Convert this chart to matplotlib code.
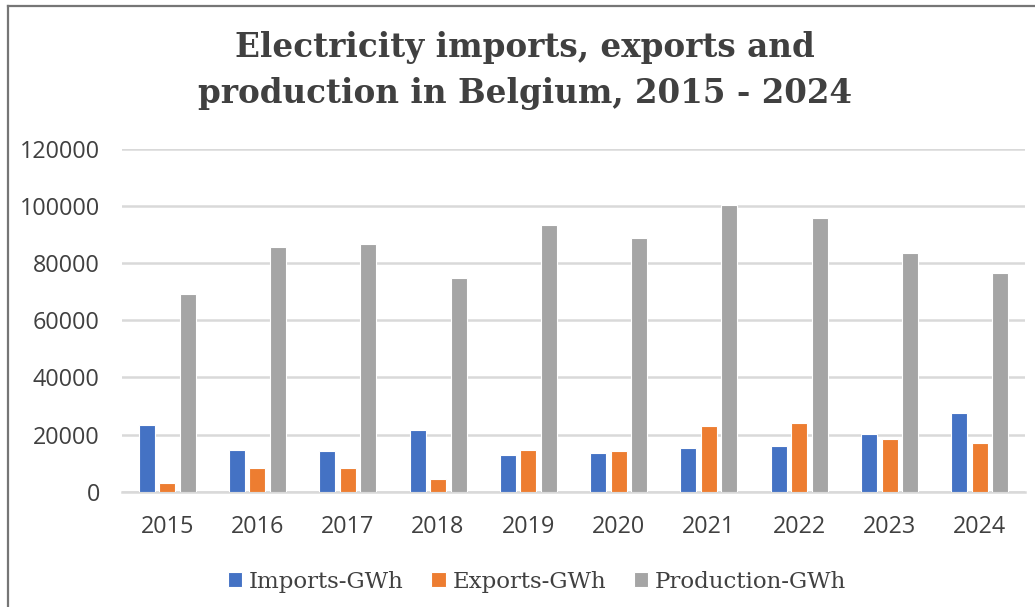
import matplotlib
matplotlib.use("Agg")
import matplotlib.pyplot as plt
import numpy as np
from matplotlib.lines import Line2D

years = ["2015", "2016", "2017", "2018", "2019", "2020", "2021", "2022", "2023", "2024"]
imports_gwh = [23500, 14700, 14100, 21600, 12700, 13600, 15200, 16100, 20100, 27400]
exports_gwh = [2900, 8300, 8300, 4300, 14700, 14100, 23000, 23900, 18500, 17000]
production_gwh = [69400, 85600, 86600, 74700, 93500, 89000, 100300, 96000, 83700, 76700]
series_names = ["Imports-GWh", "Exports-GWh", "Production-GWh"]
colors = ["#4472C4", "#ED7D31", "#A5A5A5"]
yticks = [0, 20000, 40000, 60000, 80000, 100000, 120000]
title_lines = ["Electricity imports, exports and", "production in Belgium, 2015 - 2024"]

fig = plt.figure(figsize=(10.35, 6.07), dpi=100)
ax = fig.add_axes([122/1035, 1-491.7/607, 903/1035, (491.7-149)/607])

x = np.arange(len(years))
w = 0.177
sp = 0.227
for i, (vals, name, c) in enumerate(zip([imports_gwh, exports_gwh, production_gwh], series_names, colors)):
    ax.bar(x + (i-1)*sp, vals, width=w, color=c, edgecolor="white", linewidth=0.8, label=name, zorder=3)

ax.set_xlim(-0.5, len(years)-0.5)
ax.set_ylim(0, 120000)
ax.set_yticks(yticks)
ax.set_yticklabels([str(v) for v in yticks])
ax.set_xticks(x)
ax.set_xticklabels(years)
ax.yaxis.grid(True, color="#D9D9D9", linewidth=1.8, zorder=0)
ax.set_axisbelow(True)
for s in ["top", "right", "left"]:
    ax.spines[s].set_visible(False)
ax.spines["bottom"].set_color("#D9D9D9")
ax.spines["bottom"].set_linewidth(1.8)
ax.tick_params(axis="y", length=0, labelsize=16.8, labelcolor="#404040", pad=16)
ax.tick_params(axis="x", length=0, labelsize=16.8, labelcolor="#404040", pad=17)
for lab in ax.get_xticklabels() + ax.get_yticklabels():
    lab.set_family("Open Sans")

for line, base in zip(title_lines, [56.7, 103.5]):
    fig.text(0.507, 1-base/607, line, ha="center", va="baseline", fontsize=23.5,
             fontweight="bold", family="DejaVu Serif", color="#404040")

leg = fig.legend(loc="center", bbox_to_anchor=(0.519, 1-582/607), ncol=3, frameon=False,
                 prop={"family": "DejaVu Serif", "size": 16.5}, handlelength=0.63, handleheight=0.63,
                 handletextpad=0.3, columnspacing=1.2, labelcolor="#404040")

fig.add_artist(Line2D([8/1035, 8/1035], [0, 1-5.5/607], color="#767676", linewidth=1.6, transform=fig.transFigure))
fig.add_artist(Line2D([8/1035, 1], [1-5.5/607, 1-5.5/607], color="#767676", linewidth=1.6, transform=fig.transFigure))

fig.savefig("out.png", dpi=100)
